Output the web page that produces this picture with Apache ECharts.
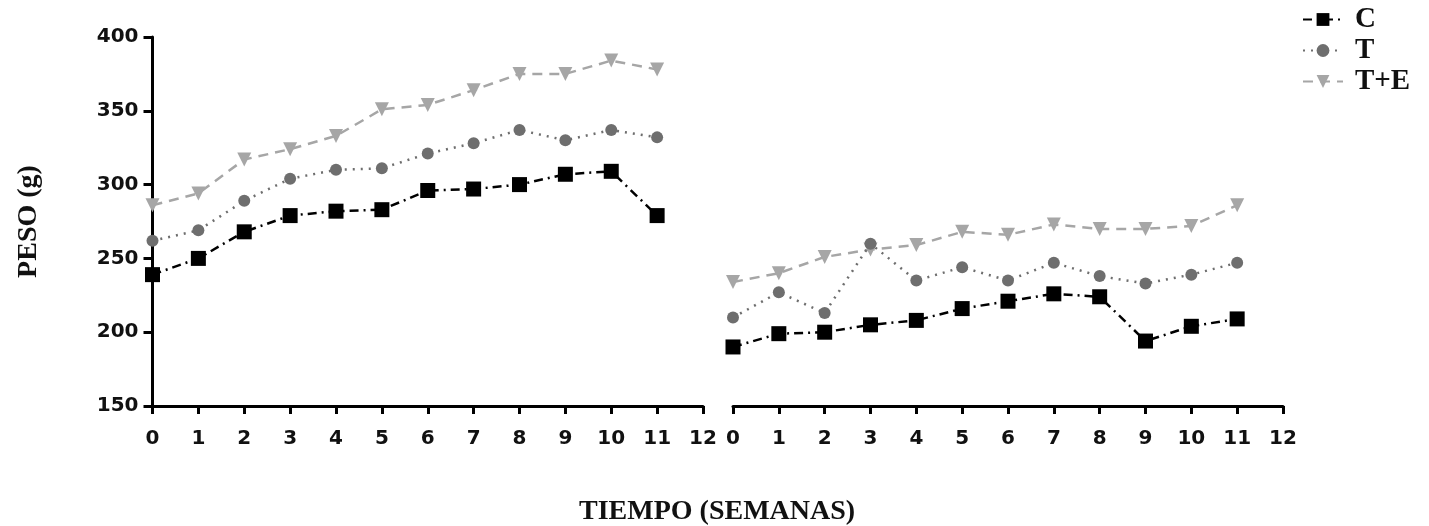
<!DOCTYPE html>
<html>
<head>
<meta charset="utf-8">
<title>Peso</title>
<script src="https://cdn.jsdelivr.net/npm/echarts@6/dist/echarts.min.js"></script>
<style>
  html, body { margin: 0; padding: 0; background: #fff; }
  #chart { width: 1429px; height: 526px; }
</style>
</head>
<body>
<div id="chart"></div>
<script>
// weeks and weights
const weeks = [0, 1, 2, 3, 4, 5, 6, 7, 8, 9, 10, 11];
const cLeft = [239, 250, 268, 279, 282, 283, 296, 297, 300, 307, 309, 279];
const tLeft = [262, 269, 289, 304, 310, 311, 321, 328, 337, 330, 337, 332];
const teLeft = [286, 294, 317, 324, 333, 351, 354, 364, 375, 375, 384, 378];
const cRight = [190, 199, 200, 205, 208, 216, 221, 226, 224, 194, 204, 209];
const tRight = [210, 227, 213, 260, 235, 244, 235, 247, 238, 233, 239, 247];
const teRight = [234, 240, 251, 256, 259, 268, 266, 273, 270, 270, 272, 286];
const groups = ["C", "T", "T+E"];

const serif = "Liberation Serif";
const sans = "DejaVu Sans";

const styles = {
  "C": { color: "#000000", symbol: "rect", size: 15, rotate: 0, type: [9, 5, 2, 5] },
  "T": { color: "#6e6e6e", symbol: "circle", size: 12, rotate: 0, type: [2, 6] },
  "T+E": { color: "#a6a6a6", symbol: "triangle", size: 14, rotate: 180, type: [10, 7] }
};

const pairs = (ys) => weeks.map((w, i) => [w, ys[i]]);

const makeSeries = (name, ys, idx) => {
  const s = styles[name];
  return {
    name: name,
    type: "line",
    xAxisIndex: idx,
    yAxisIndex: idx,
    data: pairs(ys),
    symbol: s.symbol,
    symbolSize: s.size,
    symbolRotate: s.rotate,
    itemStyle: { color: s.color },
    lineStyle: { color: s.color, width: 2.5, type: s.type },
    z: name === "C" ? 5 : 3
  };
};

const xAxisBase = (idx) => ({
  type: "value",
  gridIndex: idx,
  min: 0,
  max: 12,
  interval: 1,
  splitLine: { show: false },
  axisLine: { show: true, onZero: false, lineStyle: { color: "#000", width: 3 } },
  axisTick: { show: true, length: 8, lineStyle: { color: "#000", width: 3 } },
  axisLabel: { color: "#111", fontFamily: sans, fontWeight: "bold", fontSize: 20, margin: 23 }
});

const yAxisBase = (idx) => ({
  type: "value",
  gridIndex: idx,
  min: 150,
  max: 400,
  interval: 50,
  splitLine: { show: false },
  axisLine: { show: idx === 0, lineStyle: { color: "#000", width: 3 } },
  axisTick: { show: idx === 0, length: 9, lineStyle: { color: "#000", width: 3 } },
  axisLabel: { show: idx === 0, color: "#111", fontFamily: sans, fontWeight: "bold", fontSize: 20, margin: 14 }
});

const chart = echarts.init(document.getElementById("chart"));
chart.setOption({
  animation: false,
  backgroundColor: "#fff",
  title: {
    text: "TIEMPO (SEMANAS)",
    left: 574,
    top: 493,
    textStyle: { fontFamily: serif, fontWeight: "bold", fontSize: 28, color: "#111" }
  },
  legend: {
    data: groups,
    orient: "vertical",
    left: 1297,
    top: 0,
    itemWidth: 40,
    itemHeight: 16,
    itemGap: 2,
    textStyle: { fontFamily: serif, fontWeight: "bold", fontSize: 29, lineHeight: 24, color: "#111", padding: [0, 0, 0, 7] }
  },
  grid: [
    { left: 152.5, top: 37, width: 550.5, height: 369 },
    { left: 733, top: 37, width: 550, height: 369 }
  ],
  xAxis: [xAxisBase(0), xAxisBase(1)],
  yAxis: [
    Object.assign(yAxisBase(0), {
      name: "PESO (g)",
      nameLocation: "middle",
      nameRotate: 90,
      nameGap: 110,
      nameTextStyle: { fontFamily: serif, fontWeight: "bold", fontSize: 28, color: "#111" }
    }),
    yAxisBase(1)
  ],
  series: [
    makeSeries("T+E", teLeft, 0),
    makeSeries("T", tLeft, 0),
    makeSeries("C", cLeft, 0),
    makeSeries("T+E", teRight, 1),
    makeSeries("T", tRight, 1),
    makeSeries("C", cRight, 1)
  ]
});
</script>
</body>
</html>
